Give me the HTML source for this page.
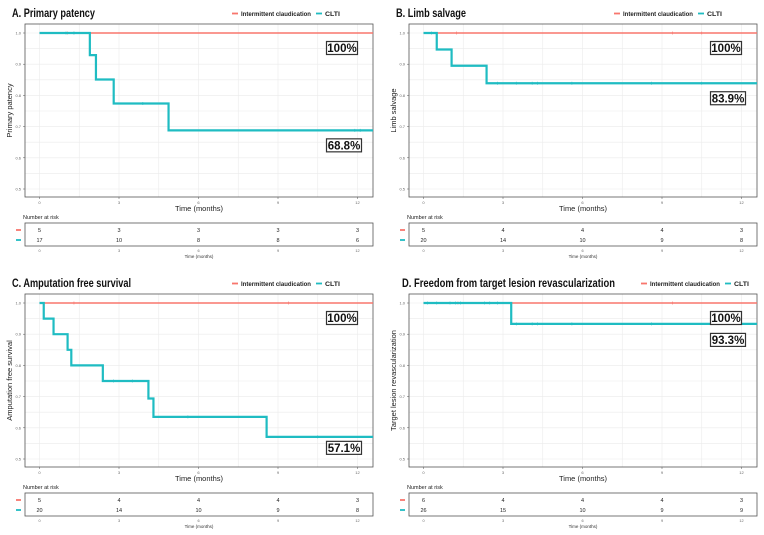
<!DOCTYPE html>
<html><head><meta charset="utf-8"><style>
html,body{margin:0;padding:0;background:#fff}
svg{display:block;font-family:"Liberation Sans",sans-serif}
</style></head><body>
<svg id="chart" width="764" height="535" viewBox="0 0 764 535" xmlns="http://www.w3.org/2000/svg"></svg>
<script>
const panelTitles = ["A. Primary patency","B. Limb salvage","C. Amputation free survival","D.  Freedom from target lesion revascularization"];
const yTitles = ["Primary patency","Limb salvage","Amputation free survival","Target lesion revascularization"];
const pctIC = ["100%","100%","100%","100%"];
const pctCLTI = ["68.8%","83.9%","57.1%","93.3%"];
const cltiTimesA = [1.9,2.13,2.8,4.87];
const cltiSurvA = [0.929,0.851,0.774,0.688];
const cltiTimesB = [0.5,1.06,2.38];
const cltiSurvB = [0.947,0.895,0.839];
const cltiTimesC = [0.16,0.53,1.06,1.2,2.39,4.11,4.3,8.57];
const cltiSurvC = [0.95,0.90,0.85,0.80,0.75,0.694,0.635,0.571];
const cltiTimesD = [3.31];
const cltiSurvD = [0.933];
const cltiCensA = [1.0,1.3,3.9,11.9,12.1];
const cltiCensB = [0.3,2.8,3.5,4.1,4.3,5.6,8.6,10.5];
const cltiCensC = [2.8,3.5,5.6,10.5];
const cltiCensD = [0.15,0.5,1.0,1.2,1.4,2.3,2.5,2.8,3.5,4.1,4.3,5.6,8.6];
const icCensA = [1.05,1.3];
const icCensB = [1.25,9.4,10.5];
const icCensC = [1.3,9.4];
const icCensD = [1.3,9.4];
const riskIC = [[5,3,3,3,3],[5,4,4,4,3],[5,4,4,4,3],[6,4,4,4,3]];
const riskCLTI = [[17,10,8,8,6],[20,14,10,9,8],[20,14,10,9,8],[26,15,10,9,9]];
const xTicks = [0,3,6,9,12];
const yTicks = [0.5,0.6,0.7,0.8,0.9,1.0];
const yTickLabels = ["0.5","0.6","0.7","0.8","0.9","1.0"];

const RED="#F8766D", TEAL="#1FBCC2";
const svg=document.getElementById('chart');
const NS="http://www.w3.org/2000/svg";
function mk(tag,attrs,parent,text){const e=document.createElementNS(NS,tag);for(const k in attrs)e.setAttribute(k,attrs[k]);if(text!==undefined)e.textContent=text;(parent||svg).appendChild(e);return e;}

const titleX=[12,12,12,18], titleW=[83,70,119,213];
const panels=[
 {ox:0,oy:0,times:cltiTimesA,surv:cltiSurvA,cc:cltiCensA,ic:icCensA,legX:232},
 {ox:384,oy:0,times:cltiTimesB,surv:cltiSurvB,cc:cltiCensB,ic:icCensB,legX:230},
 {ox:0,oy:270,times:cltiTimesC,surv:cltiSurvC,cc:cltiCensC,ic:icCensC,legX:232},
 {ox:384,oy:270,times:cltiTimesD,surv:cltiSurvD,cc:cltiCensD,ic:icCensD,legX:257}
];

panels.forEach((p,i)=>{
 const g=mk('g',{transform:`translate(${p.ox},${p.oy})`});
 
 
 const L=25,R=373,T=24,B=197;
 const X=t=>39.5+t*(357.5-39.5)/12;
 const Y=v=>33+(1-v)*(189-33)/0.5;
 const tt=mk('text',{x:titleX[i],y:17,'font-size':11.5,'font-weight':'bold',fill:'#111',textLength:titleW[i],lengthAdjust:'spacingAndGlyphs'},g,panelTitles[i]);
 
 // legend
 const lg=mk('g',{},g);
 mk('line',{x1:p.legX,x2:p.legX+6,y1:13.5,y2:13.5,stroke:RED,'stroke-width':1.8},lg);
 mk('text',{x:p.legX+9,y:16,'font-size':6.2,'font-weight':'bold',fill:'#222',textLength:70,lengthAdjust:'spacingAndGlyphs'},lg,'Intermittent claudication');
 mk('line',{x1:p.legX+84,x2:p.legX+90,y1:13.5,y2:13.5,stroke:TEAL,'stroke-width':1.8},lg);
 mk('text',{x:p.legX+93,y:16,'font-size':6.2,'font-weight':'bold',fill:'#222',textLength:15,lengthAdjust:'spacingAndGlyphs'},lg,'CLTI');
 // grid
 const grid=mk('g',{},g);
 for(let v=0.5;v<=1.001;v+=0.05){mk('line',{x1:L,x2:R,y1:Y(v),y2:Y(v),stroke:'#ebebeb','stroke-width':0.6},grid);}
 for(let t=0;t<=12.5;t+=1.5){mk('line',{x1:X(t),x2:X(t),y1:T,y2:B,stroke:'#ebebeb','stroke-width':0.6},grid);}
 mk('rect',{x:L,y:T,width:R-L,height:B-T,fill:'none',stroke:'#555','stroke-width':0.8},g);
 yTicks.forEach((v,k)=>{mk('line',{x1:L-2,x2:L,y1:Y(v),y2:Y(v),stroke:'#555','stroke-width':0.5},g);
   mk('text',{x:L-4,y:Y(v)+1.5,'font-size':4,'text-anchor':'end',fill:'#666'},g,yTickLabels[k]);});
 xTicks.forEach(t=>{mk('line',{x1:X(t),x2:X(t),y1:B,y2:B+2,stroke:'#555','stroke-width':0.5},g);
   mk('text',{x:X(t),y:B+7,'font-size':4,'text-anchor':'middle',fill:'#666'},g,String(t));});
 const xt=mk('text',{x:199,y:211,'font-size':7.5,'text-anchor':'middle',fill:'#222'},g,'Time (months)');
 
 const yt=mk('text',{x:0,y:0,'font-size':7.5,'text-anchor':'middle',fill:'#222',transform:`translate(12,${(T+B)/2}) rotate(-90)`},g,yTitles[i]);
 
 // IC line
 const icl=mk('line',{x1:X(0),x2:R,y1:Y(1),y2:Y(1),stroke:RED,'stroke-width':1.6},g);
 
 p.ic.forEach(t=>mk('line',{x1:X(t),x2:X(t),y1:Y(1)-1.5,y2:Y(1)+1.5,stroke:RED,'stroke-width':0.6},g));
 // CLTI step
 let d=`M${X(0)},${Y(1)}`;
 p.times.forEach((t,k)=>{d+=` H${X(t)} V${Y(p.surv[k])}`;});
 d+=` H${R}`;
 const cl=mk('path',{d:d,fill:'none',stroke:TEAL,'stroke-width':2.2},g);
 
 const survAt=t=>{let s=1;p.times.forEach((tt,k)=>{if(t>=tt)s=p.surv[k];});return s;};
 p.cc.forEach(t=>{const s=survAt(t);mk('line',{x1:X(t),x2:X(t),y1:Y(s)-1.5,y2:Y(s)+1.5,stroke:TEAL,'stroke-width':0.6},g);});
 // percent labels
 function box(txt,cx,cy,w,name){const bg=mk('g',{},g);
   mk('rect',{x:cx-w/2,y:cy-6.5,width:w,height:13,fill:'#fff',stroke:'#333','stroke-width':1.2},bg);
   mk('text',{x:cx,y:cy+4.2,'font-size':11.5,'font-weight':'bold','text-anchor':'middle',fill:'#111'},bg,txt);}
 box(pctIC[i],342,Y(1)+15,31,'ic-percent-label');
 const cltiLabelY=[Y(0.688)+15,Y(0.839)+15,Y(0.571)+11,Y(0.933)+16][i];
 box(pctCLTI[i],344,cltiLabelY,35,'clti-percent-label');
 // risk table
 const rt=mk('g',{},g);
 mk('text',{x:23,y:219,'font-size':5.5,fill:'#222'},rt,'Number at risk');
 mk('rect',{x:L,y:223,width:R-L,height:23,fill:'none',stroke:'#555','stroke-width':0.8},rt);
 mk('line',{x1:16,x2:21,y1:230,y2:230,stroke:RED,'stroke-width':1.8},rt);
 mk('line',{x1:16,x2:21,y1:240,y2:240,stroke:TEAL,'stroke-width':1.8},rt);
 xTicks.forEach((t,k)=>{
   mk('text',{x:X(t),y:232,'font-size':5.5,'text-anchor':'middle',fill:'#222'},rt,String(riskIC[i][k]));
   mk('text',{x:X(t),y:242,'font-size':5.5,'text-anchor':'middle',fill:'#222'},rt,String(riskCLTI[i][k]));
   mk('text',{x:X(t),y:252,'font-size':3.8,'text-anchor':'middle',fill:'#666'},rt,String(t));
 });
 mk('text',{x:199,y:258,'font-size':4.5,'text-anchor':'middle',fill:'#333'},rt,'Time (months)');
});
</script>
</body></html>
